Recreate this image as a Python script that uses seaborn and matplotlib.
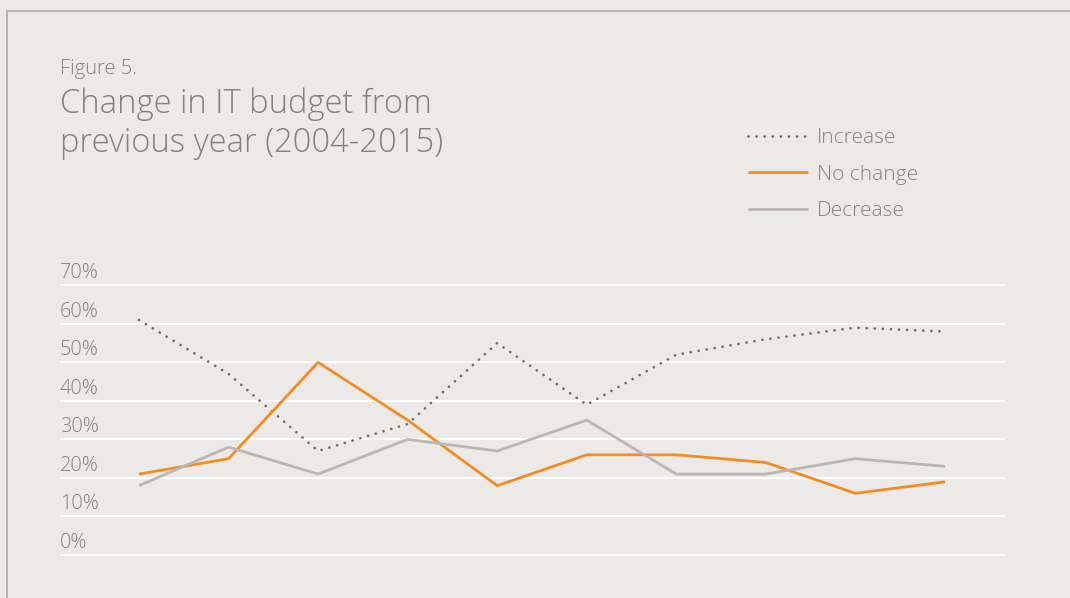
import matplotlib
matplotlib.use("Agg")
import matplotlib.pyplot as plt
import matplotlib.transforms as mtransforms
from matplotlib.lines import Line2D
import seaborn as sns
import pandas as pd

# Survey waves, 2004-2015 (x positions only, not labelled)
waves = list(range(10))
increase = [61, 47, 27, 34, 55, 39, 52, 56, 59, 58]
no_change = [21, 25, 50, 35, 18, 26, 26, 24, 16, 19]
decrease = [18, 28, 21, 30, 27, 35, 21, 21, 25, 23]
series_names = ["Increase", "No change", "Decrease"]
y_ticks = [0, 10, 20, 30, 40, 50, 60, 70]

BG = "#ECEAE8"
TXT = "#8A807B"
ORANGE = "#F68B1F"
LIGHT = "#BDB6B2"
DARK = "#776C6A"

df = pd.DataFrame({
    "wave": waves * 3,
    "share": increase + no_change + decrease,
    "series": [s for s in series_names for _ in waves],
})

sns.set_theme(style="white")
plt.rcParams["font.family"] = ["Open Sans", "DejaVu Sans"]
WEIGHT = "light"

W, H = 1070, 598
fig = plt.figure(figsize=(W / 100, H / 100), dpi=100, facecolor=BG)

# Outer frame (top and left edges)
fig.add_artist(Line2D([7 / W, 1], [1 - 11 / H, 1 - 11 / H], color="#B9B3B0",
                      lw=1.4, transform=fig.transFigure))
fig.add_artist(Line2D([7 / W, 7 / W], [0, 1 - 11 / H], color="#B9B3B0",
                      lw=1.4, transform=fig.transFigure))

# Axes placement: 0% gridline at y=555px, 70% at y=285px
ppu = (555 - 285.3) / 70.0
y_lo, y_hi = -0.6, 70.6
bottom_px = 555 + 0.6 * ppu
top_px = 285.3 - 0.6 * ppu
ax = fig.add_axes([60 / W, 1 - bottom_px / H, (1005 - 60) / W, (bottom_px - top_px) / H])
ax.set_facecolor(BG)

styles = {
    "Increase": dict(color=DARK, lw=2.0, linestyle=(0, (0.01, 2.9)),
                     dash_capstyle="round"),
    "No change": dict(color=ORANGE, lw=2.0, solid_capstyle="butt"),
    "Decrease": dict(color=LIGHT, lw=2.0, solid_capstyle="butt"),
}
for name in series_names:
    sns.lineplot(data=df[df["series"] == name], x="wave", y="share", ax=ax,
                 label=name, zorder=3, **styles[name])

step = (945 - 139) / 9.0
ax.set_xlim(-(139 - 60) / step, 9 + (1005 - 945) / step)
ax.set_ylim(y_lo, y_hi)

ax.set_yticks(y_ticks)
ax.set_yticklabels([f"{v}%" for v in y_ticks])
ax.set_xticks([])
ax.set_xlabel("")
ax.set_ylabel("")
ax.yaxis.grid(True, color="white", lw=1.5)
ax.set_axisbelow(True)
for sp in ax.spines.values():
    sp.set_visible(False)
ax.tick_params(axis="y", length=0, pad=0, labelsize=14.3, labelcolor=TXT)
lift = mtransforms.ScaledTranslation(0, 7 / 100, fig.dpi_scale_trans)
for lab in ax.get_yticklabels():
    lab.set_ha("left")
    lab.set_va("baseline")
    lab.set_fontweight(WEIGHT)
    lab.set_transform(lab.get_transform() + lift)

# Legend
handles, labels = ax.get_legend_handles_labels()
leg = fig.legend(handles, labels, loc="upper left",
                 bbox_to_anchor=(748 / W, 1 - 128 / H), frameon=False,
                 fontsize=15, handlelength=2.9, handletextpad=0.42,
                 labelspacing=0.8, borderpad=0, borderaxespad=0)
for t in leg.get_texts():
    t.set_color(TXT)
    t.set_fontweight(WEIGHT)
if ax.get_legend():
    ax.get_legend().remove()

# Headings
fig.text(60 / W, 1 - 74 / H, "Figure 5.", fontsize=14.5, color=TXT,
         fontweight=WEIGHT, va="baseline", ha="left")
fig.text(60 / W, 1 - 113 / H, "Change in IT budget from", fontsize=23.6,
         color=TXT, fontweight=WEIGHT, va="baseline", ha="left")
fig.text(60 / W, 1 - 152 / H, "previous year (2004-2015)", fontsize=23.6,
         color=TXT, fontweight=WEIGHT, va="baseline", ha="left")

fig.savefig("out.png", dpi=100, facecolor=BG)
